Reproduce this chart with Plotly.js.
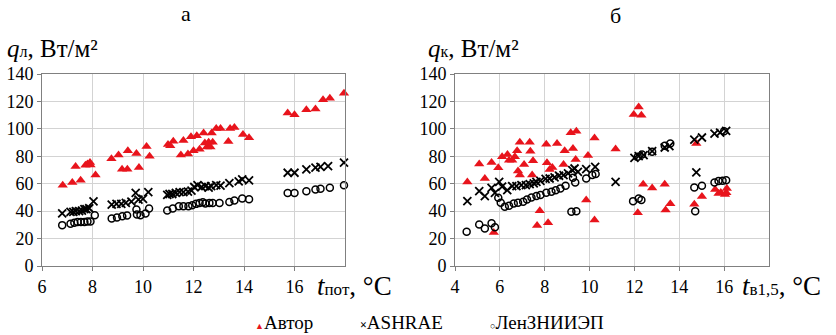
<!DOCTYPE html>
<html>
<head>
<meta charset="utf-8">
<script src="https://cdn.plot.ly/plotly-3.0.1.min.js"></script>
<style>
html,body{margin:0;padding:0;background:#fff;}
#chart{width:836px;height:335px;}
#chart svg text{font-family:'Liberation Serif', serif !important;}
</style>
</head>
<body>
<div id="chart"></div>
<script>
// ---- Left chart (а): q_л vs t_пот ----
const leftAvtorX = [6.82,7.2,7.33,7.53,7.72,7.8,7.9,7.92,8.12,8.75,9.03,9.17,9.38,9.4,9.74,9.84,10.14,10.26,10.99,11.08,11.2,11.6,11.5,11.78,11.9,12,12.13,12.24,12.4,12.45,12.53,12.6,12.67,12.72,12.76,12.9,13.07,13.38,13.45,13.62,13.96,14.2,15.73,16,16.47,16.83,17.13,17.4,17.96];
const leftAvtorY = [58.8,60.8,72.6,62.5,73.4,74.3,75.5,73.6,66.3,78.2,80.9,70.5,70.5,84,82,71.9,87.2,80.1,88.6,87.7,91,91.5,80.9,81.6,94.2,84,94.9,85.2,96.9,89.6,86.7,90.3,86.7,96.9,90.3,100.2,100.2,90.8,100.2,101,95.9,93.5,111.6,110.2,114,114.5,121.3,122.3,125.9];
const leftAshraeX = [6.8,7.13,7.24,7.34,7.47,7.58,7.68,7.76,7.87,8.04,8.76,8.95,9.14,9.32,9.54,9.71,9.82,10,10.21,10.96,11.05,11.16,11.3,11.45,11.6,11.78,11.92,12.03,12.16,12.32,12.47,12.6,12.7,12.9,13.07,13.42,13.79,13.93,14.2,15.73,16,16.47,16.83,17.03,17.33,17.96];
const leftAshraeY = [38.3,39.5,39.5,40,40,40.4,41.4,41.4,42.1,47.2,44.8,45.3,45.3,46,47,53.3,48.4,48.9,53.8,51.8,52.5,52.5,53.3,53.8,53.8,54.3,55,57.6,59,57.6,58.3,57.1,58.3,59,58.6,60.5,61.7,63.2,62.5,68,68,70.5,71.7,72.2,72.9,75.3];
const leftLenX = [6.8,7.13,7.28,7.41,7.54,7.68,7.8,7.92,8.09,8.76,8.97,9.18,9.37,9.74,9.76,9.9,10.1,10.24,10.96,11.18,11.42,11.6,11.8,11.95,12.1,12.24,12.37,12.47,12.63,12.76,13.03,13.42,13.62,13.93,14.2,15.73,16,16.47,16.83,17.03,17.4,17.96];
const leftLenY = [29.8,30.8,31.5,32,32,32,32.4,32.4,37,34.6,35.4,36.3,36.8,41.2,37.5,37,38.3,41.9,40.4,41.9,43.6,43.6,43.6,44.3,45.3,46,46.5,45.5,46,46,46,46.7,47.7,49.2,48.7,53.3,53.3,54.5,55.7,56.4,57.1,58.8];

// ---- Right chart (б): q_к vs t_в1,5 ----
const rightAvtorX = [4.55,5.08,5.33,5.63,5.73,5.93,6.1,6.34,6.41,6.55,6.67,6.77,6.89,6.81,6.89,7.08,7.33,7.36,7.48,7.44,7.78,7.66,8.07,8.1,8.22,8.34,8.15,8.55,8.89,8.84,9.16,9.41,9.26,9.38,9.85,9.93,10.22,10.22,11.16,11.97,12.19,12.31,12.15,12.39,12.79,13.35,13.39,13.6,14.67,14.76,15.01,15.6,15.75,15.85,16.04,16.12,16.1];
const rightAvtorY = [61.2,74.3,63.8,75.5,24.5,71.6,79.6,81.3,77.2,77.2,79.6,84,90.3,69.2,66.3,74,90.3,83.7,76.7,66.3,40.3,29.6,88.8,75.2,70.4,71.8,31.6,89.3,84,74,97.1,98.3,85.7,77.7,48.1,80.6,93.4,33.5,85.4,110.4,116,110,38.8,59.7,56.8,59.7,40.8,45.4,45.1,89.3,50.7,55.8,52.9,53.6,52.2,56.6,53.4];
const rightAshraeX = [4.55,5.08,5.33,5.63,5.78,5.97,6.1,6.33,6.55,6.74,6.96,7.16,7.33,7.51,7.63,7.81,8.04,8.22,8.44,8.64,8.84,9.04,9.23,9.33,9.48,9.85,10.25,11.16,12,12.19,12.41,12.79,13.35,13.56,14.67,15.01,14.76,15.57,15.82,16.09];
const rightAshraeY = [47.3,54.6,51,57,53.4,61.4,57.8,55.3,58.3,58.3,59,59,59.7,60.2,61.4,62.1,63.6,63.8,64.6,65.8,66.3,67.5,69.9,71.1,68.7,70.6,72.3,61.4,78.9,80.1,80.8,83.7,86.4,87.4,92.2,93.7,68.2,96.6,97.3,98.5];
const rightLenX = [4.52,5.08,5.33,5.63,5.78,5.93,6.04,6.22,6.41,6.62,6.81,7.04,7.21,7.41,7.63,7.81,8.07,8.3,8.49,8.7,8.93,9.19,9.41,9.26,9.36,9.85,10.12,10.27,11.94,12.19,12.31,12.15,12.34,12.79,13.35,13.6,14.67,15.01,14.71,15.57,15.75,15.93,16.09,16];
const rightLenY = [25,30.3,27.4,31.1,28.2,49.8,46.1,43.2,43.9,45.6,46.1,46.8,48.5,50,51,51.7,53.4,54.1,55.3,56.6,58.5,39.6,40,64.3,60.9,63.8,66.3,67,47.3,49.3,48.1,79.6,81.3,83.3,87.6,89.3,57.3,58.5,40,60.9,61.9,62.1,62.6,98.3];

const seriesNames = ['Автор', 'ASHRAE', 'ЛенЗНИИЭП'];
const leftXTicks = [6, 8, 10, 12, 14, 16];
const rightXTicks = [4, 6, 8, 10, 12, 14, 16];
const yTicks = [0, 20, 40, 60, 80, 100, 120, 140];

const RED = '#e8141c';

function tr(x, y, name, mk, xa, ya) {
  return {type: 'scatter', mode: 'markers', x: x, y: y, name: name, marker: mk,
          xaxis: xa, yaxis: ya, showlegend: false, cliponaxis: false};
}
function mkAvtor() { return {symbol: 'triangle-up', size: 9, color: RED}; }
function mkAsh() { return {symbol: 'x-thin-open', size: 8, color: '#000', line: {color: '#000', width: 1.8}}; }
function mkLen() { return {symbol: 'circle-open', size: 7, color: '#000', line: {color: '#000', width: 1.5}}; }

const data = [
  tr(leftAvtorX, leftAvtorY, seriesNames[0], mkAvtor(), 'x', 'y'),
  tr(leftAshraeX, leftAshraeY, seriesNames[1], mkAsh(), 'x', 'y'),
  tr(leftLenX, leftLenY, seriesNames[2], mkLen(), 'x', 'y'),
  tr(rightAvtorX, rightAvtorY, seriesNames[0], mkAvtor(), 'x2', 'y2'),
  tr(rightAshraeX, rightAshraeY, seriesNames[1], mkAsh(), 'x2', 'y2'),
  tr(rightLenX, rightLenY, seriesNames[2], mkLen(), 'x2', 'y2')
];

function tickFont() { return {family: 'Liberation Serif', size: 18, color: '#000'}; }
function axisBase(domain, range, tickvals, anchor) {
  return {domain: domain, range: range, tickvals: tickvals, anchor: anchor,
    showgrid: true, gridcolor: '#d3d3d3', gridwidth: 1, showline: true, linecolor: '#808080',
    linewidth: 1, mirror: true, ticks: 'outside', ticklen: 4, tickcolor: '#808080', tickwidth: 1,
    zeroline: false, tickfont: tickFont(), fixedrange: true};
}

const W = 836, H = 335;
function pxX(v) { return v / W; }
function pxY(v) { return (H - v) / H; }
function ann(text, x, y, xanchor, size) {
  return {text: text, xref: 'paper', yref: 'paper', x: pxX(x), y: pxY(y), xanchor: xanchor, yanchor: 'middle',
          showarrow: false, font: {family: 'Liberation Serif', size: size, color: '#000'}};
}

const layout = {
  width: W, height: H,
  margin: {l: 0, r: 0, t: 0, b: 0},
  paper_bgcolor: '#fff', plot_bgcolor: '#fff',
  showlegend: false,
  xaxis: axisBase([pxX(42), pxX(345)], [6, 18], leftXTicks, 'y'),
  yaxis: axisBase([pxY(266), pxY(74)], [0, 140], yTicks, 'x'),
  xaxis2: axisBase([pxX(455), pxX(769)], [4, 18], rightXTicks, 'y2'),
  yaxis2: axisBase([pxY(266), pxY(74)], [0, 140], yTicks, 'x2'),
  annotations: [
    ann('а', 186, 14, 'center', 22),
    ann('б', 615, 15, 'center', 22),
    ann('<i>q</i><span style="font-size:16px">л</span>, Вт/м²', 5, 49, 'left', 25),
    ann('<i>q</i><span style="font-size:16px">к</span>, Вт/м²', 426, 49, 'left', 25),
    ann('<i>t</i><span style="font-size:17px">пот</span>, °C', 315, 286, 'left', 27),
    ann('<i>t</i><span style="font-size:17px">в1,5</span>, °C', 740, 286, 'left', 27),
    ann('<span style="color:' + RED + ';font-size:9px">▲</span>' + seriesNames[0], 253, 322, 'left', 19),
    ann('<span style="font-size:12px"><b>×</b></span>' + seriesNames[1], 358, 322, 'left', 19),
    ann('<span style="font-size:9px"><b>○</b></span>' + seriesNames[2], 488, 322, 'left', 19)
  ]
};

Plotly.newPlot('chart', data, layout, {displayModeBar: false, staticPlot: true});
</script>
</body>
</html>
